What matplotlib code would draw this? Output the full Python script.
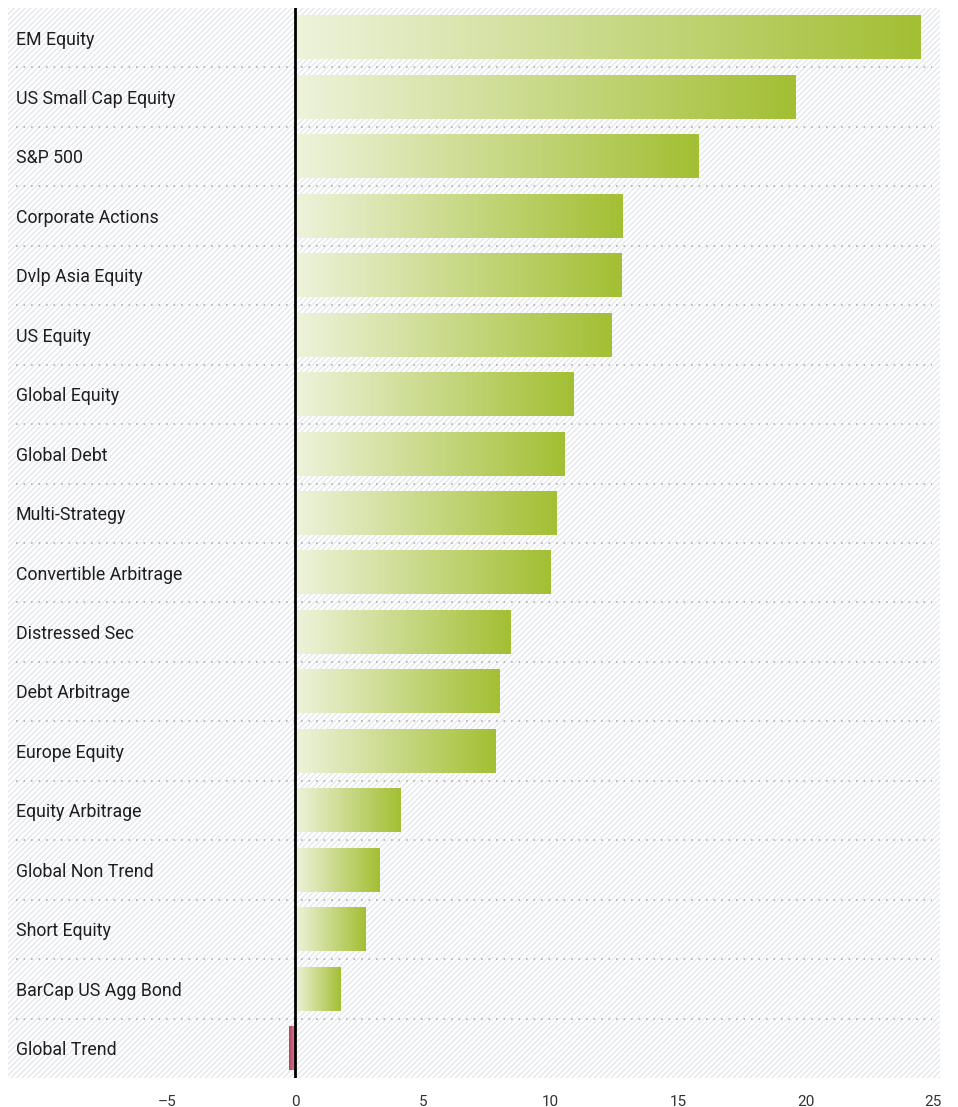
import numpy as np
import matplotlib.pyplot as plt
from matplotlib.patches import Rectangle
from matplotlib.colors import LinearSegmentedColormap
from matplotlib import font_manager

# Annualised returns by strategy / index
categories = ['EM Equity', 'US Small Cap Equity', 'S&P 500', 'Corporate Actions',
              'Dvlp Asia Equity', 'US Equity', 'Global Equity', 'Global Debt',
              'Multi-Strategy', 'Convertible Arbitrage', 'Distressed Sec',
              'Debt Arbitrage', 'Europe Equity', 'Equity Arbitrage',
              'Global Non Trend', 'Short Equity', 'BarCap US Agg Bond', 'Global Trend']
returns = [24.5, 19.6, 15.8, 12.85, 12.8, 12.4, 10.9, 10.55, 10.25, 10.0,
           8.45, 8.0, 7.85, 4.15, 3.3, 2.75, 1.8, -0.25]
xticks = [-5, 0, 5, 10, 15, 20, 25]

names = {f.name for f in font_manager.fontManager.ttflist}
font = 'Liberation Sans Narrow' if 'Liberation Sans Narrow' in names else 'Roboto'
plt.rcParams['font.family'] = [font, 'DejaVu Sans']
plt.rcParams['hatch.linewidth'] = 1.0

green = LinearSegmentedColormap.from_list('g', ['#eef3dc', '#a3bf33'])
red = LinearSegmentedColormap.from_list('r', ['#d88a9c', '#b8405e'])

fig = plt.figure(figsize=(9.58, 11.07), dpi=100)
ax = fig.add_axes([8 / 958, 29 / 1107, 932 / 958, 1070 / 1107])
ax.set_xlim(-11.25, 25.27)
ax.set_ylim(len(categories) - 0.5, -0.5)

# hatched background
ax.add_patch(Rectangle((0, 0), 1, 1, transform=ax.transAxes, facecolor='white',
                       edgecolor='#e4e7ec', hatch='//////', lw=0, zorder=0))

grad = np.linspace(0, 1, 256).reshape(1, -1)
h = 0.73
for i, (name, v) in enumerate(zip(categories, returns)):
    x0, x1 = min(0, v), max(0, v)
    cmap = green if v >= 0 else red
    g = grad if v >= 0 else grad[:, ::-1]
    ax.imshow(g, cmap=cmap, aspect='auto', extent=(x0, x1, i + h / 2, i - h / 2),
              zorder=2, interpolation='bilinear')
    ax.text(-10.95, i + 0.03, name, va='center', ha='left', fontsize=12.8,
            color='#1e1e1e')
    if i < len(categories) - 1:
        ax.plot([-10.95, 24.95], [i + 0.5, i + 0.5], color='#b0b0b0', lw=1.2,
                ls=(0, (1, 3.5)), zorder=1)

ax.axvline(0, color='black', lw=2, zorder=3)

for s in ax.spines.values():
    s.set_visible(False)
ax.set_yticks([])
ax.set_xticks(xticks)
ax.set_xticklabels(['\u2013' + str(-t) if t < 0 else str(t) for t in xticks])
ax.tick_params(axis='x', length=0, pad=12, labelsize=11, labelcolor='#333333')

fig.savefig('out.png', dpi=100)
